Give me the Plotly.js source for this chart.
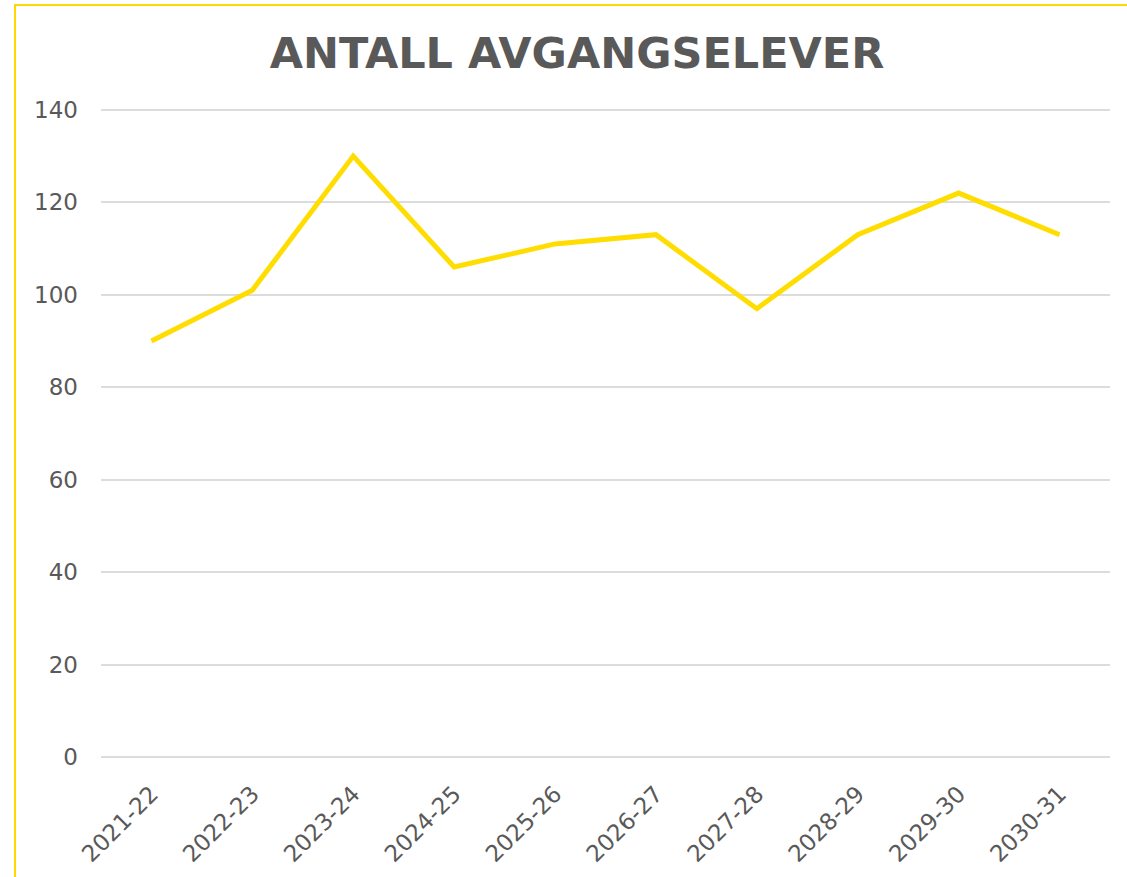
<!DOCTYPE html>
<html>
<head>
<meta charset="utf-8">
<script src="https://cdn.plot.ly/plotly-3.0.1.min.js"></script>
<style>
  html, body { margin: 0; padding: 0; background: #fff; }
  #wrap { position: relative; width: 1127px; height: 877px; overflow: hidden; }
  #chart { position: absolute; left: 0; top: 0; width: 1127px; height: 877px; }
  #frame { position: absolute; left: 14px; top: 4px; width: 1200px; height: 1000px;
           border-left: 2px solid #FFD800; border-top: 2px solid #FFD800; pointer-events: none; }
</style>
</head>
<body>
<div id="wrap">
  <div id="chart"></div>
  <div id="frame"></div>
</div>
<script>
const categories = ["2021-22","2022-23","2023-24","2024-25","2025-26","2026-27","2027-28","2028-29","2029-30","2030-31"];
const values = [90, 101, 130, 106, 111, 113, 97, 113, 122, 113];
const yTicks = [0, 20, 40, 60, 80, 100, 120, 140];
const chartTitle = "ANTALL AVGANGSELEVER";

const trace = {
  x: categories,
  y: values,
  type: "scatter",
  mode: "lines",
  line: { color: "#FFDD00", width: 5 },
  hoverinfo: "x+y"
};

const layout = {
  width: 1127,
  height: 877,
  margin: { l: 101, r: 17, t: 108, b: 118 },
  paper_bgcolor: "rgba(0,0,0,0)",
  plot_bgcolor: "#ffffff",
  showlegend: false,
  title: {
    text: "<b>" + chartTitle + "</b>",
    font: { family: "DejaVu Sans", size: 43, color: "#595959" },
    x: 0.512, xanchor: "center",
    y: 1 - 53 / 877, yanchor: "middle", yref: "container"
  },
  xaxis: {
    type: "category",
    range: [-0.5, 9.5],
    tickangle: -45,
    showgrid: false,
    showline: false,
    zeroline: false,
    ticks: "",
    ticklabelstandoff: 16,
    tickfont: { family: "DejaVu Sans", size: 23, color: "#595959" },
    fixedrange: true
  },
  yaxis: {
    range: [-0.4, 140.4],
    tickvals: yTicks,
    ticktext: yTicks.map(String),
    showgrid: true,
    gridcolor: "#dcdcdc",
    gridwidth: 2,
    zeroline: false,
    showline: false,
    ticks: "",
    ticklabelstandoff: 22,
    tickfont: { family: "DejaVu Sans", size: 23, color: "#595959" },
    fixedrange: true
  }
};

Plotly.newPlot("chart", [trace], layout, { displayModeBar: false, staticPlot: true });
</script>
</body>
</html>
